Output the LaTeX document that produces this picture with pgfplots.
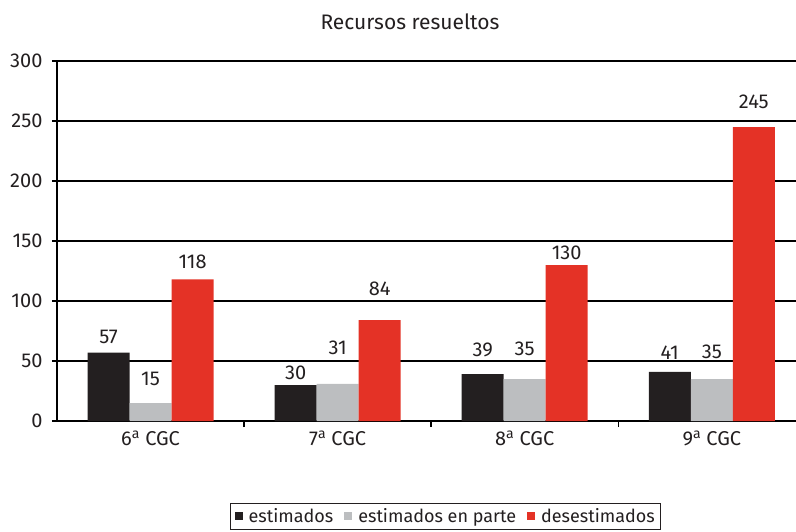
\documentclass[border=0pt]{standalone}
\usepackage{pgfplots}
\pgfplotsset{compat=1.18}
\usepackage{fontspec}
\setmainfont{Fira Sans}

\definecolor{cBlack}{HTML}{231F20}
\definecolor{cGrey}{HTML}{BCBEC0}
\definecolor{cRed}{HTML}{E43226}

\newcommand{\ord}{\textsuperscript{a}}

% x, value, label offset above bar top (px)
\pgfplotstableread{
x y off
0 57 16
1 30 12
2 39 24
3 41 19
}\estim
\pgfplotstableread{
x y off
0 15 24
1 31 36
2 35 30
3 35 27
}\parte
\pgfplotstableread{
x y off
0 118 18
1 84 31
2 130 12
3 245 25
}\desest

\begin{document}
\begin{tikzpicture}
\useasboundingbox (0pt,0pt) rectangle (796pt,-532pt);
\node[text=cBlack, font=\fontsize{21}{24}\selectfont] at (410pt,-22pt) {Recursos resueltos};
\begin{axis}[
  at={(57pt,-421pt)}, anchor=south west,
  scale only axis,
  width=739pt, height=360pt,
  ybar=0pt, bar width=42pt,
  xmin=-0.5, xmax=3.45,
  ymin=0, ymax=300,
  xtick={0,1,2,3},
  xticklabels={6\ord{} CGC,7\ord{} CGC,8\ord{} CGC,9\ord{} CGC},
  minor xtick={0.5,1.5,2.5},
  ytick={0,50,...,300},
  axis x line*=bottom, axis y line*=left,
  axis line style={black, line width=1.8pt, -},
  tick align=outside,
  major x tick style={draw=none},
  minor x tick style={black, line width=1.5pt},
  minor tick length=6pt,
  major tick length=5pt,
  y tick style={black, line width=1.5pt},
  ymajorgrids, grid style={black, line width=1.6pt},
  yticklabel style={xshift=-6pt, text=cBlack},
  xticklabel style={yshift=-1pt, text=cBlack},
  /pgf/number format/assume math mode=true,
  tick label style={font=\fontsize{20}{24}\selectfont},
  clip=false,
  nodes near coords,
  visualization depends on={\thisrow{off} \as \off},
  every node near coord/.append style={anchor=center, yshift=\off pt, text=cBlack,
    font=\fontsize{20}{24}\selectfont, /pgf/number format/assume math mode=true},
  legend columns=-1,
  legend style={at={(0.526,-0.228)}, anchor=north, draw=cBlack, line width=0.8pt,
    font=\fontsize{18}{22}\selectfont, text=cBlack, inner xsep=4pt, inner ysep=3pt,
    /tikz/every odd column/.append style={column sep=4pt}},
  legend image code/.code={\fill[#1] (0pt,-4pt) rectangle (8pt,4pt);},
]
\addplot[fill=cBlack, draw=none] table[x=x,y=y] {\estim};
\addlegendentry{estimados\kern9pt\mbox{}}
\addplot[fill=cGrey, draw=none] table[x=x,y=y] {\parte};
\addlegendentry{estimados en parte\kern9pt\mbox{}}
\addplot[fill=cRed, draw=none] table[x=x,y=y] {\desest};
\addlegendentry{desestimados}
\end{axis}
\end{tikzpicture}
\end{document}
